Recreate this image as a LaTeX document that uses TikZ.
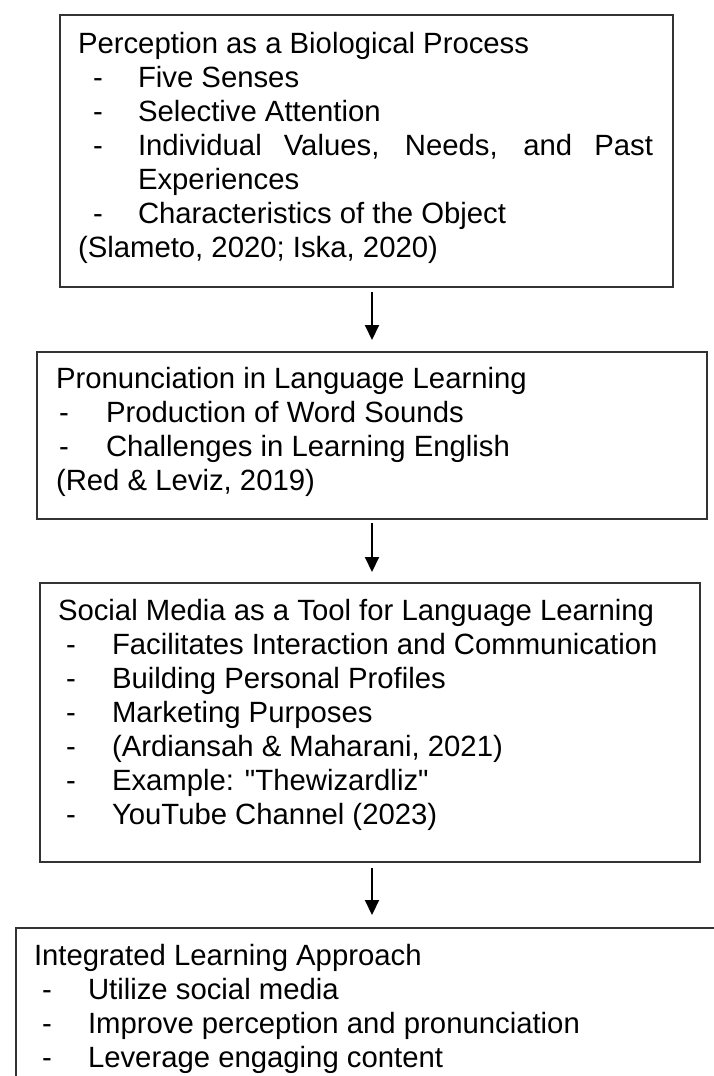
\documentclass[tikz,border=0pt]{standalone}
\usepackage{fontspec}
\setmainfont{Liberation Sans}
\newfontfamily\plainquote{Liberation Sans}
\usetikzlibrary{arrows.meta}
\tikzset{
  boxnode/.style={draw=black!80, line width=1.6pt, rectangle, inner sep=0pt, outer sep=0pt, anchor=north west},
  ln/.style={anchor=base west, inner sep=0pt, outer sep=0pt, font=\fontsize{29.3}{34}\selectfont},
  arr/.style={-{Triangle[width=14pt,length=15pt]}, line width=2pt, black},
}
\begin{document}
\begin{tikzpicture}[x=1pt,y=-1pt]
\useasboundingbox (0,0) rectangle (714,1076);
\clip (0,0) rectangle (714,1076);
\fill[white] (0,0) rectangle (714,1076);

% boxes
\node[boxnode, minimum width=613pt, minimum height=272pt] (b1) at (60,15) {};
\node[boxnode, minimum width=670pt, minimum height=167pt] (b2) at (37,352) {};
\node[boxnode, minimum width=660pt, minimum height=279pt] (b3) at (40,583) {};
\node[boxnode, minimum width=740pt, minimum height=200pt] (b4) at (16,928) {};

% box 1 text
\node[ln] (t1a) at (78,53) {Perception as a Biological Process};
\node[ln] (d1b) at (93,87) {-};
\node[ln] (t1b) at (138,87) {Five Senses};
\node[ln] (d1c) at (93,121) {-};
\node[ln] (t1c) at (138,121) {Selective Attention};
\node[ln] (d1d) at (93,155) {-};
\node[ln] (t1d) at (138,155) {\makebox[515pt][s]{Individual Values, Needs, and Past}};
\node[ln] (t1e) at (138,189) {Experiences};
\node[ln] (d1f) at (93,223) {-};
\node[ln] (t1f) at (138,223) {Characteristics of the Object};
\node[ln] (t1g) at (78,257) {(Slameto, 2020; Iska, 2020)};

% box 2 text
\node[ln] (t2a) at (56,388) {Pronunciation in Language Learning};
\node[ln] (d2b) at (59,422) {-};
\node[ln] (t2b) at (106,422) {Production of Word Sounds};
\node[ln] (d2c) at (59,456) {-};
\node[ln] (t2c) at (106,456) {Challenges in Learning English};
\node[ln] (t2d) at (56,490) {(Red \& Leviz, 2019)};

% box 3 text
\node[ln] (t3a) at (58,620) {Social Media as a Tool for Language Learning};
\node[ln] (d3b) at (66,654) {-};
\node[ln] (t3b) at (112,654) {Facilitates Interaction and Communication};
\node[ln] (d3c) at (66,688) {-};
\node[ln] (t3c) at (112,688) {Building Personal Profiles};
\node[ln] (d3d) at (66,722) {-};
\node[ln] (t3d) at (112,722) {Marketing Purposes};
\node[ln] (d3e) at (66,756) {-};
\node[ln] (t3e) at (112,756) {(Ardiansah \& Maharani, 2021)};
\node[ln] (d3f) at (66,790) {-};
\node[ln] (t3f) at (112,790) {{\plainquote Example: "Thewizardliz"}};
\node[ln] (d3g) at (66,824) {-};
\node[ln] (t3g) at (112,824) {YouTube Channel (2023)};

% box 4 text
\node[ln] (t4a) at (34,965) {Integrated Learning Approach};
\node[ln] (d4b) at (42,999) {-};
\node[ln] (t4b) at (88,999) {Utilize social media};
\node[ln] (d4c) at (42,1033) {-};
\node[ln] (t4c) at (88,1033) {Improve perception and pronunciation};
\node[ln] (d4d) at (42,1067) {-};
\node[ln] (t4d) at (88,1067) {Leverage engaging content};

% arrows
\draw[arr] ([yshift=-5pt]b1.south -| b2.north) -- ([yshift=12pt]b2.north);
\draw[arr] ([yshift=-4pt]b2.south) -- ([yshift=11pt]b3.north -| b2.south);
\draw[arr] ([yshift=-6pt]b3.south -| b2.south) -- ([yshift=13pt]b4.north -| b2.south);
\end{tikzpicture}
\end{document}
